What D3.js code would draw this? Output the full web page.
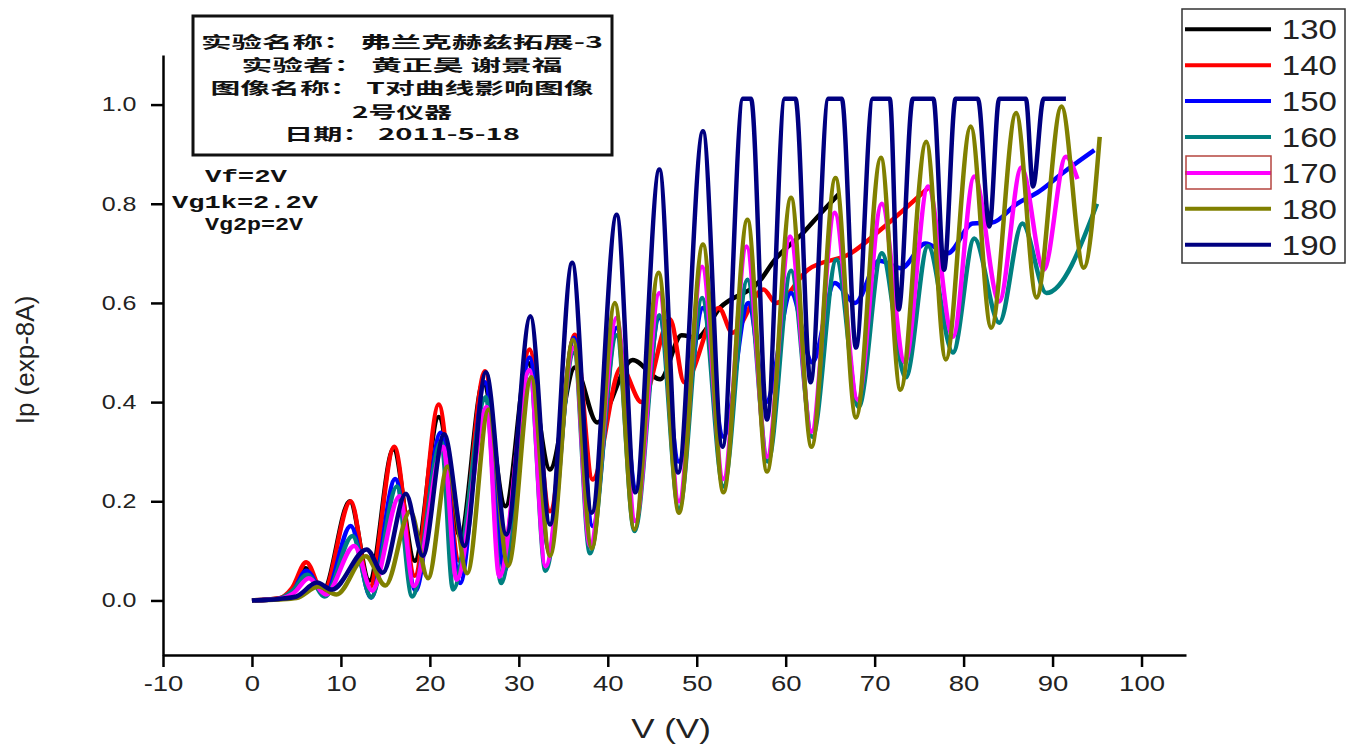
<!DOCTYPE html>
<html>
<head>
<meta charset="utf-8">
<script src="https://cdn.jsdelivr.net/npm/d3@7"></script>
<style>
  body { margin: 0; background: #fff; }
  .wide { transform-box: fill-box; transform-origin: center; }
</style>
</head>
<body>
<svg id="chart" width="1360" height="745"></svg>
<script>
// temperature labels (legend) and colours
var temps = ["130", "140", "150", "160", "170", "180", "190"];
var colors = ["#000000", "#ff0000", "#0000ff", "#008080", "#ff00ff", "#808000", "#000080"];

// Ip vs V: [V, Ip]
var s130 = [[0,0],[3,0.004],[4.5,0.02],[6,0.065],[8,0.02],[11,0.2],[13.2,0.04],[15.9,0.305],[18.3,0.08],[21,0.37],
  [23.4,0.13],[26,0.44],[28.5,0.19],[31,0.48],[33.5,0.264],[36.3,0.47],[38.8,0.359],[42.8,0.485],[45.9,0.446],
  [48.3,0.535],[50,0.53],[52.6,0.59],[57.2,0.647],[58.6,0.683],[62,0.742],[64,0.782],[66,0.82]];
var s140 = [[0,0],[3,0.004],[4.5,0.025],[6.1,0.077],[8,0.015],[11.1,0.2],[13.2,0.025],[16,0.31],[18.3,0.05],[21,0.395],
  [23.3,0.08],[26.2,0.462],[28.4,0.12],[31.2,0.506],[33.5,0.18],[36.3,0.536],[38.3,0.244],[41.5,0.47],[43.8,0.4],
  [47,0.567],[48.6,0.44],[52.5,0.59],[54,0.54],[57.5,0.627],[58.9,0.6],[62.5,0.667],[67.3,0.7],[70.7,0.748],[76.2,0.835]];
var s150 = [[0,0],[3,0.003],[4.5,0.015],[6.1,0.06],[8.2,0.01],[11.1,0.15],[13.4,0.006],[16.1,0.245],[18.4,0.02],[21.2,0.338],
  [23.4,0.035],[26.2,0.44],[28.4,0.06],[31.2,0.49],[33.4,0.1],[36.2,0.53],[38.3,0.15],[41,0.55],[43.2,0.225],[45.8,0.57],
  [48,0.28],[50.7,0.59],[53,0.33],[55.8,0.6],[57.8,0.4],[60.6,0.62],[63,0.48],[65.5,0.64],[67.8,0.6],[70.5,0.685],
  [73,0.67],[75.7,0.72],[78.2,0.7],[81,0.76],[83.2,0.762],[86,0.8],[88.5,0.825],[91,0.86],[94.7,0.908]];
var s160 = [[0,0],[3,0.003],[4.6,0.02],[6.2,0.052],[8.2,0.008],[11.3,0.13],[13.4,0.006],[16.3,0.23],[18,0.008],[21.3,0.32],
  [22.6,0.022],[26.3,0.41],[28,0.035],[31.2,0.465],[33,0.06],[36.2,0.5],[38,0.095],[41,0.535],[43,0.14],[45.8,0.575],
  [48,0.185],[50.6,0.61],[53,0.23],[55.7,0.647],[58,0.28],[60.6,0.665],[63,0.33],[65.7,0.687],[68.2,0.39],[70.8,0.7],
  [73.5,0.45],[76,0.715],[78.8,0.5],[81.2,0.73],[84,0.56],[86.6,0.76],[89.3,0.62],[95,0.8]];
var s170 = [[0,0],[3,0.003],[4.7,0.015],[6.4,0.045],[8.3,0.012],[11.5,0.11],[13.5,0.02],[16.6,0.21],[18.2,0.029],[21.5,0.31],
  [23,0.042],[26.4,0.39],[27.8,0.048],[31.2,0.465],[33,0.069],[36.2,0.51],[38,0.11],[41,0.57],[43.1,0.16],[45.8,0.62],
  [48,0.2],[50.6,0.673],[53,0.245],[55.6,0.714],[57.9,0.29],[60.5,0.734],[62.9,0.34],[65.5,0.782],[68.1,0.405],[70.8,0.8],
  [73.4,0.48],[76,0.835],[78.8,0.532],[81.2,0.855],[84,0.603],[86.5,0.873],[89,0.667],[91.5,0.895],[92.8,0.85]];
var s180 = [[0,0],[3,0.002],[5,0.005],[7.5,0.028],[9.5,0.012],[12.8,0.089],[15,0.03],[17.8,0.18],[19.8,0.045],[22,0.27],
  [24.2,0.055],[26.6,0.385],[28.8,0.07],[31.4,0.45],[33.5,0.09],[36.1,0.526],[38.2,0.105],[40.8,0.6],[43,0.143],[45.7,0.661],
  [48,0.177],[50.7,0.718],[53,0.218],[55.7,0.768],[57.9,0.26],[60.6,0.812],[62.9,0.31],[65.6,0.852],[67.9,0.369],[70.7,0.893],
  [72.9,0.425],[75.8,0.925],[78,0.486],[80.8,0.956],[83.1,0.55],[85.9,0.983],[88.2,0.611],[91,0.996],[93.5,0.671],[95.3,0.935]];
var s190 = [[0,0],[3,0.003],[5,0.008],[7.3,0.036],[9,0.022],[12.9,0.103],[14.7,0.056],[17.3,0.215],[19.2,0.09],[21.6,0.335],
  [23.9,0.11],[26.3,0.46],[28.6,0.133],[31.3,0.573],[33.5,0.153],[36,0.681],[38.2,0.177],[41,0.778],[43.1,0.218],[45.8,0.869],
  [47.9,0.258],[50.7,0.946],[52.9,0.31],[55.2,1.012],[56.1,1.012],[57.9,0.365],[59.9,1.012],[61.1,1.012],[62.8,0.44],
  [64.8,1.012],[66.3,1.012],[67.9,0.51],[69.8,1.012],[71.7,1.012],[72.7,0.587],[74.3,1.012],[76.6,1.012],[77.8,0.667],
  [79.1,1.012],[81.6,1.012],[82.9,0.754],[84,1.012],[87,1.012],[87.8,0.835],[89,1.012],[91.5,1.012]];
var seriesData = [s130, s140, s150, s160, s170, s180, s190];

var xMajor = [-10, 0, 10, 20, 30, 40, 50, 60, 70, 80, 90, 100];
var xMinor = [-5, 5, 15, 25, 35, 45, 55, 65, 75, 85, 95, 105];
var yMajor = [0.0, 0.2, 0.4, 0.6, 0.8, 1.0];
var yMinor = [-0.1, 0.1, 0.3, 0.5, 0.7, 0.9, 1.1];

var infoLines = ["实验名称： 弗兰克赫兹拓展-3", "实验者： 黄正昊 谢景福", "图像名称： T对曲线影响图像", "2号仪器", "日期： 2011-5-18"];
var paramLines = ["Vf=2V", "Vg1k=2.2V", "Vg2p=2V"];

var svg = d3.select("#chart");
var x = d3.scaleLinear().domain([-10, 105]).range([163, 1186]);
var y = d3.scaleLinear().domain([-0.11, 1.1]).range([655, 55]);

// curves
var line = d3.line()
    .x(function (d) { return x(d[0]); })
    .y(function (d) { return y(d[1]); })
    .curve(d3.curveMonotoneX);

svg.append("g").selectAll("path")
    .data(seriesData)
    .enter().append("path")
    .attr("d", line)
    .attr("fill", "none")
    .attr("stroke", function (d, i) { return colors[i]; })
    .attr("stroke-width", 4.5)
    .attr("stroke-linejoin", "round");

// axes
var gx = svg.append("g").attr("transform", "translate(0,655)");
gx.call(d3.axisBottom(x).tickValues(xMinor).tickSize(7).tickSizeOuter(0).tickFormat(""));
gx.call(d3.axisBottom(x).tickValues(xMajor).tickSize(12).tickSizeOuter(0).tickFormat(function (d) { return String(d); }));
gx.selectAll("path, line").attr("stroke", "#000").attr("stroke-width", 2.5);
gx.selectAll("text")
    .attr("class", "wide")
    .style("transform", "scaleX(1.25)")
    .attr("y", 20)
    .attr("fill", "#222")
    .style("font-family", "Liberation Sans, Arial, sans-serif")
    .style("font-size", "22px");

var gy = svg.append("g").attr("transform", "translate(163,0)");
gy.call(d3.axisLeft(y).tickValues(yMinor).tickSize(7).tickSizeOuter(0).tickFormat(""));
gy.call(d3.axisLeft(y).tickValues(yMajor).tickSize(12).tickSizeOuter(0).tickFormat(d3.format(".1f")));
gy.selectAll("path, line").attr("stroke", "#000").attr("stroke-width", 2.5);
gy.selectAll("text")
    .attr("class", "wide")
    .style("transform", "scaleX(1.25)")
    .attr("x", -30)
    .attr("fill", "#222")
    .style("font-family", "Liberation Sans, Arial, sans-serif")
    .style("font-size", "20px");

// axis titles
svg.append("text")
    .attr("class", "wide")
    .style("transform", "scaleX(1.25)")
    .attr("x", 671).attr("y", 738)
    .attr("text-anchor", "middle")
    .attr("fill", "#222")
    .style("font-family", "Liberation Sans, Arial, sans-serif")
    .style("font-size", "28px")
    .text("V (V)");

svg.append("text")
    .attr("transform", "translate(34,360) rotate(-90)")
    .attr("text-anchor", "middle")
    .attr("fill", "#222")
    .style("font-family", "Liberation Sans, Arial, sans-serif")
    .style("font-size", "26px")
    .text("Ip (exp-8A)");

// info box
svg.append("rect")
    .attr("x", 193).attr("y", 16).attr("width", 419).attr("height", 139)
    .attr("fill", "#fff").attr("stroke", "#111").attr("stroke-width", 3);

var infoY = [42, 65, 88, 112, 134];
var infoW = [402, 321, 383, 100, 236];
svg.append("g").selectAll("text")
    .data(infoLines)
    .enter().append("text")
    .attr("x", 402)
    .attr("y", function (d, i) { return infoY[i]; })
    .attr("dy", "0.36em")
    .attr("text-anchor", "middle")
    .attr("textLength", function (d, i) { return infoW[i]; })
    .attr("lengthAdjust", "spacingAndGlyphs")
    .attr("fill", "#111")
    .style("font-family", "Noto Sans CJK SC, sans-serif")
    .style("font-weight", "bold")
    .style("font-size", "16px")
    .text(function (d) { return d; });

var paramY = [176, 202, 224];
var paramX = [246, 245, 254];
var paramW = [82, 146, 98];
svg.append("g").selectAll("text")
    .data(paramLines)
    .enter().append("text")
    .attr("x", function (d, i) { return paramX[i]; })
    .attr("y", function (d, i) { return paramY[i]; })
    .attr("dy", "0.35em")
    .attr("text-anchor", "middle")
    .attr("textLength", function (d, i) { return paramW[i]; })
    .attr("lengthAdjust", "spacingAndGlyphs")
    .attr("fill", "#111")
    .style("font-family", "Liberation Mono, Courier New, monospace")
    .style("font-weight", "bold")
    .style("font-size", "18px")
    .text(function (d) { return d; });

// legend
svg.append("rect")
    .attr("x", 1182).attr("y", 9).attr("width", 163).attr("height", 254)
    .attr("fill", "#fff").attr("stroke", "#333").attr("stroke-width", 1.5);

var legend = svg.append("g").selectAll("g")
    .data(temps)
    .enter().append("g")
    .attr("transform", function (d, i) { return "translate(0," + (29.3 + i * 35.9) + ")"; });

legend.append("line")
    .attr("x1", 1185).attr("x2", 1271)
    .attr("stroke", function (d, i) { return colors[i]; })
    .attr("stroke-width", 4);

legend.append("text")
    .attr("class", "wide")
    .style("transform", "scaleX(1.18)")
    .attr("x", 1286).attr("dy", "0.36em")
    .attr("fill", "#222")
    .style("font-family", "Liberation Sans, Arial, sans-serif")
    .style("font-size", "28px")
    .text(function (d) { return d; });

// selection frame around the 170 sample
svg.append("rect")
    .attr("x", 1186).attr("y", 156).attr("width", 85).attr("height", 33)
    .attr("fill", "none").attr("stroke", "#b5453f").attr("stroke-width", 1.5);
</script>
</body>
</html>
